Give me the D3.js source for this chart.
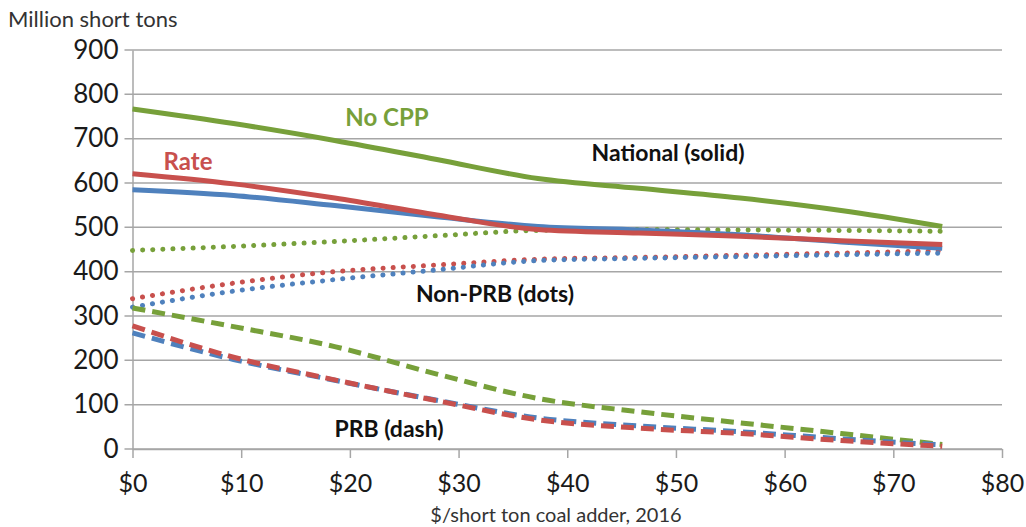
<!DOCTYPE html>
<html>
<head>
<meta charset="utf-8">
<script src="https://cdn.jsdelivr.net/npm/d3@7"></script>
<style>
  body { margin: 0; background: #fff; }
  text { font-family: Lato, "Open Sans", sans-serif; }
</style>
</head>
<body>
<div class="chart"></div>
<script>
// x positions ($/short ton adder) where values were read
var adders = [0, 9.3, 18.6, 28, 37.3, 46.6, 55.9, 65.2, 74.5];

// National (solid)
var natNoCpp = [767, 734, 696, 653, 610, 588, 566, 538, 502];
var natRate  = [621, 598, 566, 528, 495, 487, 480, 470, 461];
var natMass  = [585, 572, 549, 524, 502, 494, 483, 467, 453];

// Non-PRB (dots)
var nonPrbNoCpp = [448, 457, 468, 481, 493, 495, 494, 493, 491];
var nonPrbRate  = [339, 374, 400, 415, 428, 432, 437, 442, 447];
var nonPrbMass  = [320, 356, 382, 404, 425, 430, 434, 438, 442];

// PRB (dash)
var prbNoCpp = [318, 276, 231, 169, 114, 84, 59, 35, 10];
var prbRate  = [278, 207, 156, 109, 66, 47, 35, 19, 6];
var prbMass  = [262, 202, 155, 110, 70, 52, 39, 23, 9];

var yTicks = [0, 100, 200, 300, 400, 500, 600, 700, 800, 900];
var xTicks = [0, 10, 20, 30, 40, 50, 60, 70, 80];

var green = "#77a03a", red = "#c8504d", blue = "#4f81bd";

var svgWidth = 1026;
var svgHeight = 527;
var margin = {top: 50, right: 24, bottom: 78, left: 132.5};
var width = svgWidth - margin.left - margin.right;
var height = svgHeight - margin.top - margin.bottom;

var svg = d3.select('.chart')
  .append('svg')
  .attr('width', svgWidth)
  .attr('height', svgHeight);

var chart = svg.append('g')
  .attr('transform', 'translate(' + margin.left + ',' + margin.top + ')');

var x = d3.scaleLinear().domain([0, 80]).range([0, 869.5]);
var y = d3.scaleLinear().domain([0, 900]).range([height, 0]);

// gridlines
chart.append('g')
  .selectAll('line')
  .data(yTicks)
  .enter().append('line')
  .attr('x1', -8).attr('x2', x(80))
  .attr('y1', function(d) { return y(d); })
  .attr('y2', function(d) { return y(d); })
  .attr('stroke', '#a6a6a6')
  .attr('stroke-width', 1.5);

// y axis
var leftAxis = d3.axisLeft(y).tickValues(yTicks).tickSize(0).tickPadding(14);
var gy = chart.append('g').call(leftAxis);
gy.select('.domain').attr('stroke', '#a6a6a6').attr('stroke-width', 1.5);
gy.selectAll('text')
  .style('font-size', '26px')
  .style('font-family', 'Lato, sans-serif')
  .attr('fill', '#1a1a1a');

// x axis
var bottomAxis = d3.axisBottom(x).tickValues(xTicks).tickSizeInner(9).tickSizeOuter(0)
  .tickPadding(26).tickFormat(function(d) { return '$' + d; });
var gx = chart.append('g').attr('transform', 'translate(0,' + height + ')').call(bottomAxis);
gx.select('.domain').attr('stroke', '#a6a6a6').attr('stroke-width', 1.5);
gx.selectAll('.tick line').attr('stroke', '#a6a6a6').attr('stroke-width', 1.5);
gx.selectAll('text')
  .attr('dy', '0.32em')
  .style('font-size', '25px')
  .style('font-family', 'Lato, sans-serif')
  .attr('fill', '#1a1a1a');

// series lines
var series = [
  {vals: nonPrbNoCpp, color: green, dash: '0.1 10'},
  {vals: nonPrbRate,  color: red,   dash: '0.1 10'},
  {vals: nonPrbMass,  color: blue,  dash: '0.1 10'},
  {vals: prbNoCpp, color: green, dash: '13 7'},
  {vals: prbMass,  color: blue,  dash: '13 7'},
  {vals: prbRate,  color: red,   dash: '13 7'},
  {vals: natNoCpp, color: green, dash: null},
  {vals: natMass,  color: blue,  dash: null},
  {vals: natRate,  color: red,   dash: null}
];

var line = d3.line()
  .x(function(d) { return x(d[0]); })
  .y(function(d) { return y(d[1]); })
  .curve(d3.curveMonotoneX);

series.forEach(function(s) {
  var dotted = s.dash && s.dash.indexOf('0.1') === 0;
  var pts = adders.map(function(a, i) { return [a, s.vals[i]]; });
  chart.append('path')
    .datum(pts)
    .attr('d', line)
    .attr('fill', 'none')
    .attr('stroke', s.color)
    .attr('stroke-width', 5)
    .attr('stroke-linecap', dotted ? 'round' : 'butt')
    .attr('stroke-dasharray', s.dash);
});

// labels
function label(txt, cx, cy, color, size) {
  svg.append('text')
    .attr('x', cx).attr('y', cy)
    .attr('text-anchor', 'middle')
    .attr('dominant-baseline', 'central')
    .style('font-size', size + 'px')
    .style('font-weight', 'bold')
    .attr('fill', color)
    .text(txt);
}
label('No CPP', 387, 116, green, 24);
label('Rate', 188, 160, red, 24);
label('National (solid)', 668, 152, '#111', 23);
label('Non-PRB (dots)', 495, 293, '#111', 23);
label('PRB (dash)', 389, 428, '#111', 23);

svg.append('text')
  .attr('x', 8).attr('y', 27)
  .style('font-size', '22px')
  .attr('fill', '#333')
  .text('Million short tons');

svg.append('text')
  .attr('x', 556).attr('y', 522)
  .attr('text-anchor', 'middle')
  .style('font-size', '20px')
  .attr('fill', '#333')
  .text('$/short ton coal adder, 2016');
</script>
</body>
</html>
